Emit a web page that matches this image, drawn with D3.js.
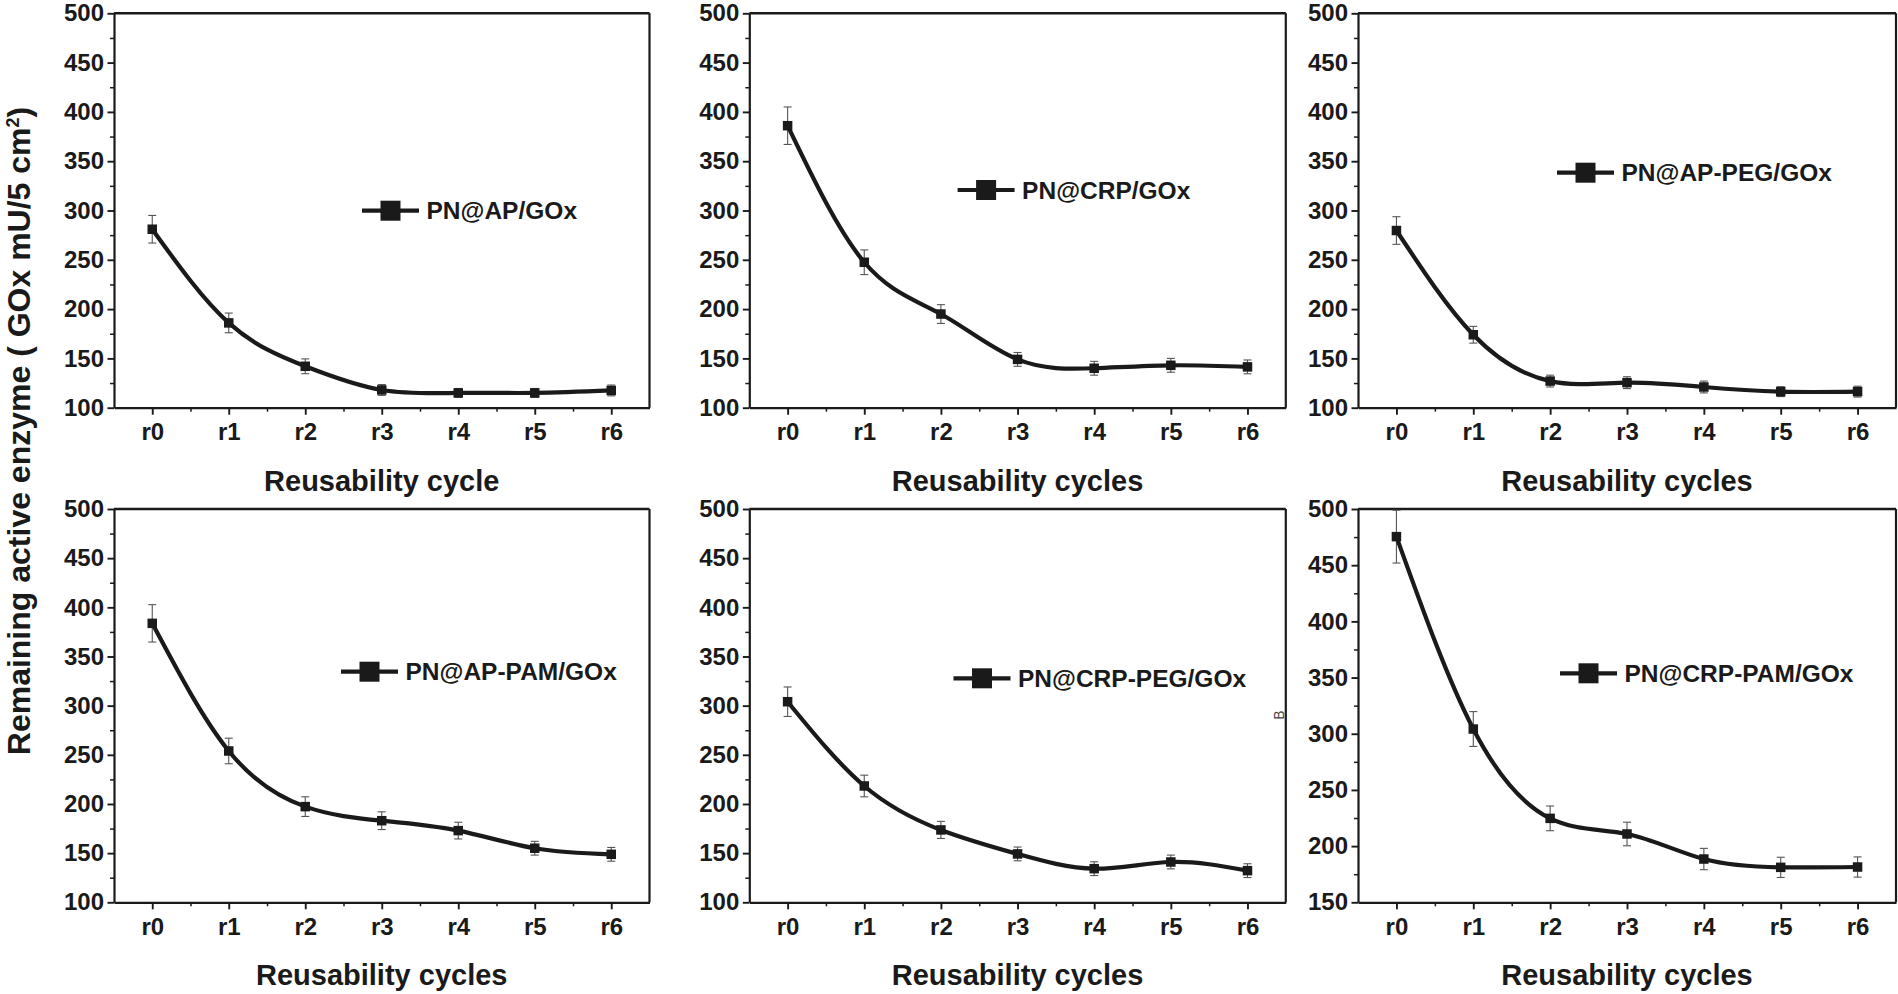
<!DOCTYPE html>
<html><head><meta charset="utf-8">
<script src="https://cdn.jsdelivr.net/npm/d3@7/dist/d3.min.js"></script>
<style>
html,body{margin:0;padding:0;background:#fff;}
svg{display:block;}
text{font-family:"Liberation Sans", Arial, Helvetica, sans-serif;}
</style></head><body>
<svg id="chart" width="1898" height="994"></svg>
<script>
// ---------------- DATA ----------------
const categories = ["r0", "r1", "r2", "r3", "r4", "r5", "r6"];
const seriesNames = ["PN@AP/GOx", "PN@CRP/GOx", "PN@AP-PEG/GOx", "PN@AP-PAM/GOx", "PN@CRP-PEG/GOx", "PN@CRP-PAM/GOx"];
const xTitles = ["Reusability cycle", "Reusability cycles", "Reusability cycles", "Reusability cycles", "Reusability cycles", "Reusability cycles"];
const yTitle = "Remaining active enzyme ( GOx mU/5 cm";

const apValues       = [281, 186, 142, 118, 115, 115, 117.5];
const apErrors       = [14, 10, 7.5, 5.5, 4.5, 4.5, 5.5];
const crpValues      = [386, 247.5, 195, 149, 140, 143, 141.4];
const crpErrors      = [19, 12.5, 9.5, 7, 7, 7, 7];
const apPegValues    = [279.7, 174, 127, 125.4, 121, 116.3, 116.3];
const apPegErrors    = [14, 8.5, 6, 6, 6, 5, 5.5];
const apPamValues    = [383.7, 253.9, 197.3, 183, 172.9, 155, 148.8];
const apPamErrors    = [19, 13, 10, 9, 8.5, 7, 7];
const crpPegValues   = [304, 218.3, 173.6, 149.2, 134.2, 141, 132.2];
const crpPegErrors   = [15, 11, 8.7, 7, 7, 7, 7];
const crpPamValues   = [475.4, 304.2, 224.7, 210.8, 188.5, 181.1, 181.4];
const crpPamErrors   = [23.5, 15.5, 11, 10.5, 9.5, 9, 9];

const yTicksFrom100 = [100, 150, 200, 250, 300, 350, 400, 450, 500];
const yTicksFrom150 = [150, 200, 250, 300, 350, 400, 450, 500];

const valuesList = [apValues, crpValues, apPegValues, apPamValues, crpPegValues, crpPamValues];
const errorsList = [apErrors, crpErrors, apPegErrors, apPamErrors, crpPegErrors, crpPamErrors];
const yTickList  = [yTicksFrom100, yTicksFrom100, yTicksFrom100, yTicksFrom100, yTicksFrom100, yTicksFrom150];

// ---------------- LAYOUT ----------------
const colX = [114, 749.3, 1358];
const colW = [535.5, 536.5, 538];
const rowTop = [13.3, 509];
const rowBottom = [407.7, 902.3];
const legendPos = [[362, 210.7], [957.6, 190], [1557, 172.7], [341, 671.7], [953.5, 678.3], [1560, 673.3]];

const ink = "#1a1a1a";
const svg = d3.select("#chart");

seriesNames.forEach((name, i) => {
  const c = i % 3, r = Math.floor(i / 3);
  const x0 = colX[c], x1 = colX[c] + colW[c];
  const y0 = rowTop[r], y1 = rowBottom[r];
  const ticks = yTickList[i];
  const yMin = ticks[0], yMax = ticks[ticks.length - 1];

  const x = d3.scaleLinear().domain([-0.5, categories.length - 0.5]).range([x0, x1]);
  const y = d3.scaleLinear().domain([yMin, yMax]).range([y1, y0]);

  const g = svg.append("g");

  // frame: top and right
  g.append("line").attr("x1", x0).attr("x2", x1).attr("y1", y0).attr("y2", y0)
    .attr("stroke", ink).attr("stroke-width", 2.4);
  g.append("line").attr("x1", x1).attr("x2", x1).attr("y1", y0).attr("y2", y1)
    .attr("stroke", ink).attr("stroke-width", 2.2);

  // minor y ticks
  const minorY = [];
  for (let k = 0; k < ticks.length - 1; k++) minorY.push((ticks[k] + ticks[k + 1]) / 2);
  g.append("g").attr("transform", `translate(${x0},0)`)
    .call(d3.axisLeft(y).tickValues(minorY).tickSize(4).tickSizeOuter(0).tickFormat(""))
    .call(s => s.select(".domain").remove())
    .call(s => s.selectAll("line").attr("stroke", ink).attr("stroke-width", 1.5));

  // major y axis
  g.append("g").attr("transform", `translate(${x0},0)`)
    .call(d3.axisLeft(y).tickValues(ticks).tickSize(6.5).tickPadding(3.5).tickSizeOuter(0))
    .call(s => s.select(".domain").attr("stroke", ink).attr("stroke-width", 2.2))
    .call(s => s.selectAll("line").attr("stroke", ink).attr("stroke-width", 1.9))
    .call(s => s.selectAll("text").attr("fill", ink).attr("font-size", 24).attr("font-weight", "bold")
      .attr("font-family", '"Liberation Sans", Arial, sans-serif'));

  // minor x ticks
  const minorX = d3.range(0.5, categories.length - 1, 1);
  g.append("g").attr("transform", `translate(0,${y1})`)
    .call(d3.axisBottom(x).tickValues(minorX).tickSize(4).tickSizeOuter(0).tickFormat(""))
    .call(s => s.select(".domain").remove())
    .call(s => s.selectAll("line").attr("stroke", ink).attr("stroke-width", 1.5));

  // major x axis
  g.append("g").attr("transform", `translate(0,${y1})`)
    .call(d3.axisBottom(x).tickValues(d3.range(categories.length)).tickFormat(k => categories[k])
      .tickSize(7).tickPadding(8.5).tickSizeOuter(0))
    .call(s => s.select(".domain").attr("stroke", ink).attr("stroke-width", 2.2))
    .call(s => s.selectAll("line").attr("stroke", ink).attr("stroke-width", 1.9))
    .call(s => s.selectAll("text").attr("fill", ink).attr("font-size", 24).attr("font-weight", "bold")
      .attr("font-family", '"Liberation Sans", Arial, sans-serif'));

  // x title
  g.append("text").attr("x", (x0 + x1) / 2).attr("y", y1 + 83)
    .attr("text-anchor", "middle").attr("font-size", 29).attr("font-weight", "bold")
    .attr("fill", ink).text(xTitles[i]);

  const vals = valuesList[i], errs = errorsList[i];
  const pts = vals.map((v, k) => ({ k, v, e: errs[k] }));

  // error bars
  const eb = g.append("g").attr("stroke", "#555").attr("stroke-width", 1.1).attr("fill", "none");
  pts.forEach(p => {
    const cx = x(p.k), top = y(Math.min(p.v + p.e, yMax + 1)), bot = y(p.v - p.e);
    eb.append("line").attr("x1", cx).attr("x2", cx).attr("y1", top).attr("y2", bot);
    eb.append("line").attr("x1", cx - 4).attr("x2", cx + 4).attr("y1", top).attr("y2", top);
    eb.append("line").attr("x1", cx - 4).attr("x2", cx + 4).attr("y1", bot).attr("y2", bot);
  });

  // curve
  const line = d3.line().x(p => x(p.k)).y(p => y(p.v)).curve(d3.curveNatural);
  g.append("path").datum(pts).attr("d", line).attr("fill", "none")
    .attr("stroke", ink).attr("stroke-width", 4.2).attr("stroke-linejoin", "round");

  // markers
  const ms = 9.5;
  g.selectAll("rect.m").data(pts).join("rect").attr("class", "m")
    .attr("x", p => x(p.k) - ms / 2).attr("y", p => y(p.v) - ms / 2)
    .attr("width", ms).attr("height", ms).attr("fill", ink);

  // legend
  const [lx, ly] = legendPos[i];
  g.append("line").attr("x1", lx).attr("x2", lx + 57).attr("y1", ly).attr("y2", ly)
    .attr("stroke", ink).attr("stroke-width", 4.2);
  g.append("rect").attr("x", lx + 28.5 - 10).attr("y", ly - 10).attr("width", 20).attr("height", 20).attr("fill", ink);
  g.append("text").attr("x", lx + 64.5).attr("y", ly).attr("dy", "0.35em")
    .attr("font-size", 24.5).attr("font-weight", "bold").attr("fill", ink).text(name);
});

// shared y title
const yt = svg.append("text")
  .attr("transform", "translate(30,431) rotate(-90)")
  .attr("text-anchor", "middle").attr("font-size", 32).attr("font-weight", "bold").attr("fill", ink);
yt.append("tspan").text(yTitle);
yt.append("tspan").attr("font-size", 18).attr("dy", -11).text("2");
yt.append("tspan").attr("dy", 11).text(")");

// stray label
svg.append("text").attr("transform", "translate(1284,715) rotate(-90)")
  .attr("text-anchor", "middle").attr("font-size", 14).attr("fill", "#444").text("B");
</script>
</body></html>
